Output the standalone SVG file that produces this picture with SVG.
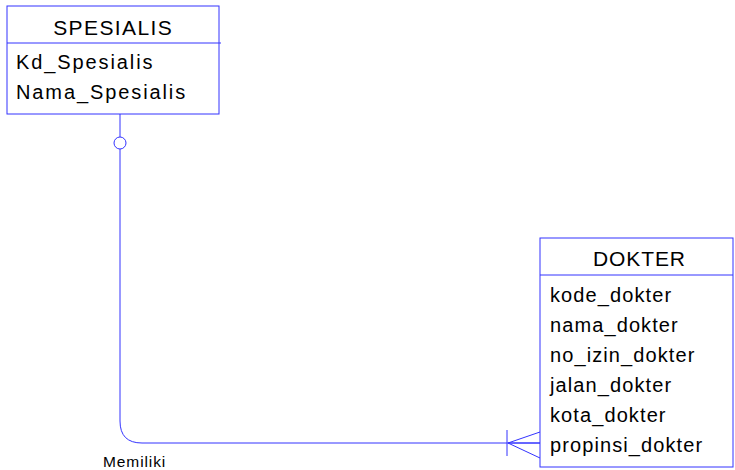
<svg xmlns="http://www.w3.org/2000/svg" width="735" height="470" viewBox="0 0 735 470">
<style>
.box{fill:#fff;stroke:#3333ff;stroke-width:1}
.ln{fill:none;stroke:#3333ff;stroke-width:1}
.t{font-family:"Liberation Sans",Arial,sans-serif;fill:#000}
.h{font-size:21px;text-anchor:middle}
.a{font-size:20px}
.s{letter-spacing:1.9px}
.d{letter-spacing:1.1px}
.l{font-size:15.5px;letter-spacing:0.9px}
</style>
<rect width="735" height="470" fill="#fff"/>
<g id="connectors">
<path class="ln" d="M120,114 V137 M120,149 V421 Q120,443 142,443 H540"/>
<circle class="ln" cx="120" cy="143" r="6"/>
<path class="ln" d="M507,430 V456 M540,432 L508,443 L540,458 M508,443 H540"/>
<text class="t l" x="103" y="467">Memiliki</text>
</g>
<g id="spesialis">
<rect class="box" x="7" y="6" width="212" height="108"/>
<line class="ln" x1="7" y1="43" x2="221" y2="43"/>
<text class="t h" x="113.2" y="35" style="letter-spacing:1.4px">SPESIALIS</text>
<text class="t a s" x="16" y="69">Kd_Spesialis</text>
<text class="t a s" x="16" y="99">Nama_Spesialis</text>
</g>
<g id="dokter">
<rect class="box" x="540" y="238" width="193" height="229"/>
<line class="ln" x1="540" y1="275" x2="733" y2="275"/>
<text class="t h" x="639.5" y="266" style="letter-spacing:0.9px">DOKTER</text>
<text class="t a d" x="550" y="302">kode_dokter</text>
<text class="t a d" x="550" y="332">nama_dokter</text>
<text class="t a d" x="550" y="362">no_izin_dokter</text>
<text class="t a d" x="550" y="392">jalan_dokter</text>
<text class="t a d" x="550" y="422">kota_dokter</text>
<text class="t a d" x="550" y="452">propinsi_dokter</text>
</g>
</svg>
